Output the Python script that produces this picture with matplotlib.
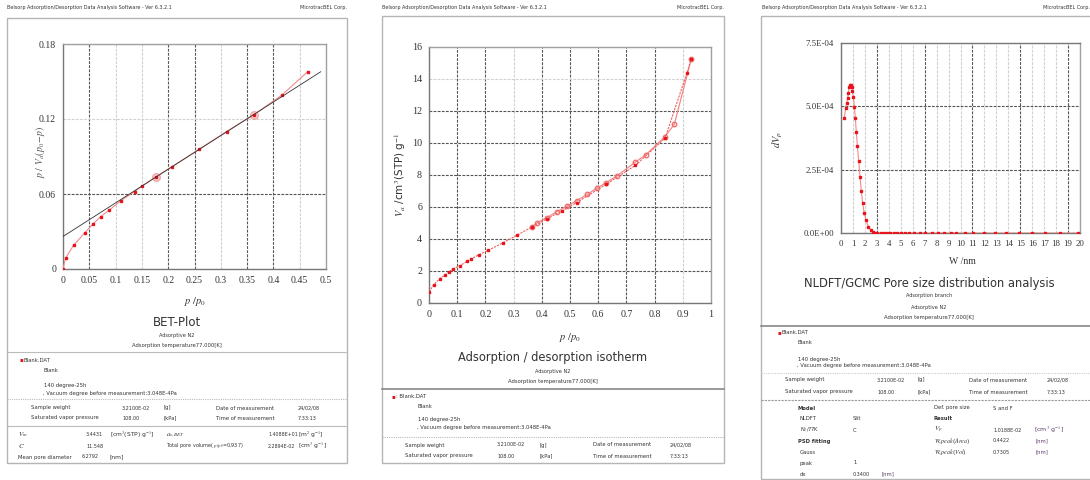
import matplotlib
matplotlib.use("Agg")
import matplotlib.pyplot as plt
from matplotlib.patches import Rectangle
from matplotlib.lines import Line2D

plt.rcParams['font.family'] = ['DejaVu Sans']
plt.rcParams['mathtext.fontset'] = 'stix'

# BET plot data
bet_x = [0.0, 0.005, 0.02, 0.041, 0.057, 0.072, 0.0875, 0.11, 0.136, 0.151, 0.1775,
         0.2075, 0.259, 0.311, 0.3625, 0.4156, 0.4656]
bet_y = [0.0, 0.0088, 0.0189, 0.0288, 0.036, 0.042, 0.047, 0.0546, 0.062, 0.0666, 0.074,
         0.082, 0.0959, 0.11, 0.1233, 0.139, 0.158]
bet_sel_x = [0.1775, 0.3625]
bet_sel_y = [0.074, 0.1233]
bet_fit_range = [0.0, 0.49]
bet_fit_intercept = 0.026
bet_fit_slope = 0.269

# isotherm data
iso_ads_p = [0.0, 0.017, 0.038, 0.056, 0.071, 0.085, 0.109, 0.135, 0.150, 0.178, 0.210,
             0.261, 0.313, 0.366, 0.417, 0.470, 0.524, 0.628, 0.732, 0.837, 0.914, 0.930]
iso_ads_v = [0.69, 1.15, 1.52, 1.73, 1.94, 2.13, 2.33, 2.60, 2.77, 3.02, 3.29,
             3.75, 4.25, 4.75, 5.25, 5.75, 6.28, 7.42, 8.60, 10.30, 14.35, 15.25]
iso_des_p = [0.930, 0.870, 0.837, 0.768, 0.732, 0.666, 0.628, 0.595, 0.561, 0.524,
             0.490, 0.453, 0.417, 0.384, 0.366]
iso_des_v = [15.25, 11.17, 10.40, 9.25, 8.81, 7.94, 7.52, 7.17, 6.79, 6.40,
             6.06, 5.71, 5.33, 5.02, 4.78]

# pore size distribution data
psd_w = [0.28, 0.39, 0.47, 0.56, 0.61, 0.67, 0.75, 0.84, 0.89, 0.95, 1.03, 1.12, 1.20,
         1.28, 1.37, 1.48, 1.59, 1.70, 1.81, 1.95, 2.09, 2.29, 2.48, 2.65, 2.85, 3.03,
         3.31, 3.59, 3.86, 4.14, 4.41, 4.69, 5.05, 5.38, 5.71, 6.14, 6.62, 7.03, 7.59,
         8.14, 8.63, 9.24, 9.66, 10.34, 11.08, 11.99, 12.88, 13.79, 14.9, 16.0, 17.1,
         18.3, 19.8]
psd_dv = [4.55e-4, 4.92e-4, 5.12e-4, 5.32e-4, 5.51e-4, 5.75e-4, 5.84e-4, 5.86e-4, 5.75e-4,
          5.6e-4, 5.38e-4, 4.99e-4, 4.53e-4, 4.00e-4, 3.43e-4, 2.86e-4, 2.22e-4, 1.67e-4,
          1.17e-4, 0.78e-4, 0.51e-4, 0.25e-4, 0.12e-4, 0.04e-4, 0.01e-4, 0.0,
          0, 0, 0, 0, 0, 0, 0, 0, 0, 0, 0, 0, 0, 0, 0, 0, 0, 0, 0, 0, 0, 0, 0, 0, 0, 0, 0]

W, H = 1090, 480
fig = plt.figure(figsize=(W / 100, H / 100), dpi=100)

TXT = '#333333'
UNIT = '#5a3d6a'


def t(x, y, s, size=3.8, ha='left', color=TXT, **kw):
    fig.text(x / W, 1 - y / H, s, fontsize=size, ha=ha, va='center', color=color, **kw)


def hline(x0, x1, y, color='#bbbbbb', lw=0.8, ls='-'):
    fig.add_artist(Line2D([x0 / W, x1 / W], [1 - y / H, 1 - y / H], color=color, lw=lw,
                          ls=ls, transform=fig.transFigure))


def box(x0, y0, x1, y1):
    fig.add_artist(Rectangle((x0 / W, 1 - y1 / H), (x1 - x0) / W, (y1 - y0) / H,
                             fill=False, edgecolor='#b5b5b5', lw=1.0,
                             transform=fig.transFigure))


def make_axes(x0, y0, x1, y1):
    return fig.add_axes([x0 / W, 1 - y1 / H, (x1 - x0) / W, (y1 - y0) / H])


def style(ax, xt, yt, strong_x, strong_y, xfmt, yfmt, size=7):
    ax.set_xticks(xt)
    ax.set_yticks(yt)
    ax.set_xticklabels([xfmt(v) for v in xt], family='Liberation Serif', fontsize=size,
                       color=TXT)
    ax.set_yticklabels([yfmt(v) for v in yt], family='Liberation Serif', fontsize=size,
                       color=TXT)
    ax.tick_params(length=0, pad=5)
    ax.grid(True, ls=(0, (2.5, 1.2)), lw=0.8)
    for v, gl in zip(xt, ax.get_xgridlines()):
        gl.set_color('#555555' if v in strong_x else '#d0d0d0')
    for v, gl in zip(yt, ax.get_ygridlines()):
        gl.set_color('#555555' if v in strong_y else '#d0d0d0')
    ax.set_axisbelow(True)
    for s in ax.spines.values():
        s.set_color('#a0a0a0')
        s.set_linewidth(1.0)
    ax.spines['left'].set_color('#777777')
    ax.spines['bottom'].set_color('#777777')


def header(x0, x1, cut=False):
    t(x0, 7, 'Belsorp Adsorption/Desorption Data Analysis Software - Ver 6.3.2.1', size=3.5)
    if cut:
        t(1043, 7, 'MicrotracBEL Corp.', size=3.5)
    else:
        t(x1, 7, 'MicrotracBEL Corp.', size=3.5, ha='right')


def sample_block(xs, y_dat, y_blank, y_140, y_vac, y_sw, y_sat, marker=''):
    t(xs[0], y_dat, '\u25aa', color='#e8141b', size=4)
    t(xs[0] + 4, y_dat, marker + 'Blank.DAT', size=3.8)
    t(xs[1], y_blank, 'Blank', size=3.8)
    t(xs[1], y_140, '140 degree-25h', size=3.8)
    t(xs[1] - 1, y_vac, ', Vacuum degree before measurement:3.048E-4Pa', size=3.8)
    cols = xs[2:]
    t(cols[0], y_sw, 'Sample weight')
    t(cols[1], y_sw, '3.2100E-02', size=3.5)
    t(cols[2], y_sw, '[g]')
    t(cols[3], y_sw, 'Date of measurement')
    t(cols[4], y_sw, '24/02/08', size=3.5)
    t(cols[0], y_sat, 'Saturated vapor pressure')
    t(cols[1], y_sat, '108.00', size=3.5)
    t(cols[2], y_sat, '[kPa]')
    t(cols[3], y_sat, 'Time of measurement')
    t(cols[4], y_sat, '7:33:13', size=3.5)


RED = '#e8141b'
PINK = '#f28a8a'

# ---------------- Panel 1: BET plot ----------------
header(7, 347)
box(7, 18, 347, 463)
ax1 = make_axes(63, 44, 326, 269)
ax1.plot(bet_x, bet_y, color=PINK, lw=0.8, marker='s', ms=1.8, mfc=RED, mec=RED, zorder=3)
ax1.plot(bet_sel_x, bet_sel_y, ls='none', marker='o', ms=5.5, mfc='#f8c8c8', mec='#e89a9a',
         alpha=0.8, zorder=2)
fit_y = [bet_fit_intercept + bet_fit_slope * v for v in bet_fit_range]
ax1.plot(bet_fit_range, fit_y, color='#333333', lw=0.6, zorder=4)
ax1.set_xlim(0, 0.5)
ax1.set_ylim(0, 0.18)
style(ax1, [0, 0.05, 0.1, 0.15, 0.2, 0.25, 0.3, 0.35, 0.4, 0.45, 0.5], [0, 0.06, 0.12, 0.18],
      [0.05, 0.2, 0.25, 0.35, 0.4], [0.06], lambda v: f'{v:g}', lambda v: f'{v:g}', size=7)
t(40, 152, r'$p\ /\ V_a(p_0\!-\!p)$', size=7, ha='center', rotation=90, color='#555555')
t(195, 301, r'$p\ /p_0$', size=7.5, ha='center')
t(177, 322, 'BET-Plot', size=8.5, ha='center')
t(177, 336, 'Adsorptive N2', size=3.6, ha='center')
t(177, 346, 'Adsorption temperature77.000[K]', size=3.8, ha='center')
hline(7, 347, 352)
sample_block([20, 44, 31, 122, 163, 216, 298], 360, 370, 386, 393, 408, 418)
hline(7, 347, 399, color='#bbbbbb', ls=(0, (1, 1)))
hline(7, 347, 426)
t(18, 435, r'$V_m$', size=5)
t(86, 435, '3.4431', size=3.5)
t(110, 435, r'[cm$^3$(STP) g$^{-1}$]', size=4.3)
t(166, 435, r'$a_{s,BET}$', size=5)
t(268, 435, '1.4088E+01', size=3.4)
t(298, 435, r'[m$^2$ g$^{-1}$]', size=4.3)
t(18, 446, r'$C$', size=5)
t(86, 446, '11.548', size=3.5)
t(166, 446, r'Total pore volume( $p/p_0$=0.937)', size=3.5)
t(268, 446, '2.2894E-02', size=3.4)
t(298, 446, r'[cm$^3$ g$^{-1}$]', size=4.3)
t(18, 457, 'Mean pore diameter')
t(82, 457, '6.2792', size=3.5)
t(110, 457, '[nm]', size=4.3)

# ---------------- Panel 2: isotherm ----------------
header(382, 724)
box(382, 16, 724, 463)
ax2 = make_axes(429, 47, 711, 303)
ax2.plot(iso_des_p, iso_des_v, color=PINK, lw=0.9, marker='o', ms=3.2, mfc='none',
         mec='#f07070', zorder=3)
ax2.plot(iso_ads_p, iso_ads_v, color='#f06060', lw=0.8, ls=(0, (2, 1)), marker='s', ms=2.0,
         mfc=RED, mec=RED, zorder=4)
ax2.set_xlim(0, 1)
ax2.set_ylim(0, 16)
style(ax2, [0, 0.1, 0.2, 0.3, 0.4, 0.5, 0.6, 0.7, 0.8, 0.9, 1], list(range(0, 17, 2)),
      [0.1, 0.2, 0.4, 0.5, 0.6, 0.7, 0.8], [2, 4, 6, 8, 10, 12], lambda v: f'{v:g}',
      lambda v: f'{v:g}', size=7.2)
t(400, 175, r'$V_a$ /cm$^3$(STP) g$^{-1}$', size=7.5, ha='center', rotation=90)
t(570, 337, r'$p\ /p_0$', size=7.5, ha='center')
t(553, 358, 'Adsorption / desorption isotherm', size=8.3, ha='center')
t(553, 371, 'Adsorptive N2', size=3.6, ha='center')
t(553, 382, 'Adsorption temperature77.000[K]', size=3.8, ha='center')
hline(382, 724, 389, color='#888888', lw=1.2)
sample_block([392, 418, 405, 497, 540, 593, 670], 397, 407, 420, 428, 445, 456, marker=': ')
hline(382, 724, 437, color='#bbbbbb', ls=(0, (1, 1)))

# ---------------- Panel 3: pore size distribution ----------------
header(762, 1090, cut=True)
box(761, 16, 1100, 479)
ax3 = make_axes(841, 43, 1080, 233)
ax3.plot(psd_w, psd_dv, color=PINK, lw=0.8, marker='s', ms=1.8, mfc=RED, mec=RED,
         zorder=3)
ax3.set_xlim(0, 20)
ax3.set_ylim(0, 7.5e-4)
style(ax3, list(range(0, 21)), [0, 2.5e-4, 5e-4, 7.5e-4], [3, 7, 11, 15, 19],
      [2.5e-4, 5e-4], lambda v: f'{v:g}', lambda v: f'{v:.1E}', size=6.3)
ax3.spines['top'].set_color('#777777')
t(778, 140, r'$dV_p$', size=7.5, ha='center', rotation=90)
t(962, 262, r'W /nm', size=7, ha='center', family='Liberation Serif')
t(929, 283, 'NLDFT/GCMC Pore size distribution analysis', size=8.3, ha='center')
t(929, 296, 'Adsorption branch', size=3.6, ha='center')
t(929, 307, 'Adsorptive N2', size=3.6, ha='center')
t(929, 318, 'Adsorption temperature77.000[K]', size=3.8, ha='center')
hline(761, 1090, 326, color='#888888', lw=1.2)
sample_block([777, 798, 785, 877, 917, 969, 1047], 333, 343, 359, 366, 380, 392)
hline(761, 1090, 373, color='#cccccc', ls=(0, (1, 1)))
hline(761, 1090, 400, color='#999999', ls=(0, (2, 1)))
t(798, 408, 'Model', weight='bold')
t(934, 408, 'Def. pore size')
t(993, 408, 'S and F')
t(800, 419, 'NLDFT')
t(853, 419, 'Slit')
t(934, 419, 'Result', weight='bold')
t(800, 430, r'N$_2$/77K', size=3.8)
t(853, 430, 'C')
t(934, 430, r'$V_p$', size=5)
t(993, 430, '1.0188E-02', size=3.5)
t(1034, 430, r'[cm$^3$ g$^{-1}$]', size=4.5, color=UNIT)
t(798, 441, 'PSD fitting', weight='bold')
t(934, 441, r'$W$,$peak$($Area$)', size=4.3)
t(993, 441, '0.4422', size=3.5)
t(1036, 441, '[nm]', color=UNIT)
t(800, 452, 'Gauss')
t(934, 452, r'$W$,$peak$($Vol$)', size=4.3)
t(993, 452, '0.7305', size=3.5)
t(1036, 452, '[nm]', color=UNIT)
t(800, 463, 'peak')
t(853, 463, '1')
t(800, 474, 'dx')
t(853, 474, '0.3400', size=3.5)
t(882, 474, '[nm]', color=UNIT)

fig.savefig('out.png', dpi=100)
